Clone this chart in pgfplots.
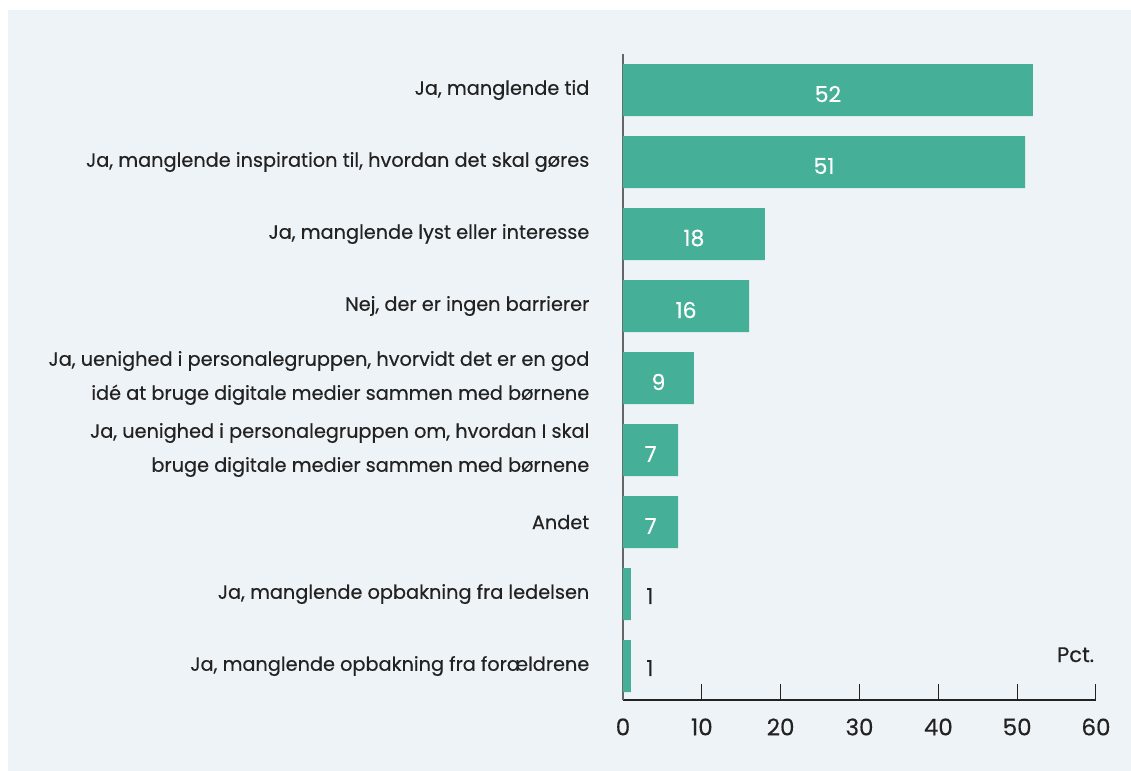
\documentclass[border=0pt]{standalone}
\usepackage{pgfplots}
\pgfplotsset{compat=1.18}
\usepackage{pgfplotstable}
\usepackage{fontspec}
\setmainfont{Poppins}[FakeBold=0.35]
\definecolor{panelbg}{HTML}{EEF3F7}
\definecolor{barteal}{HTML}{45B097}
\definecolor{txt}{HTML}{222222}
\definecolor{yline}{HTML}{666666}

% y = position from the top, v = percent
\pgfplotstableread{
y v
0 52
1 51
2 18
3 16
4 9
5 7
6 7
}\bigbars
\pgfplotstableread{
y v
7 1
8 1
}\smallbars

\begin{document}
\begin{tikzpicture}
\useasboundingbox (-311.5pt,-35.5pt) rectangle (254pt,350pt);
\fill[panelbg] (-307.5pt,-35.5pt) rectangle (254pt,345pt);
\begin{axis}[
    at={(0,0)}, anchor=south west,
    scale only axis,
    width=236.5pt, height=323pt,
    xmin=0, xmax=60,
    ymin=-0.5, ymax=8.472,
    y dir=reverse,
    axis x line*=bottom, axis y line*=left,
    x axis line style={-, draw=txt, line width=0.75pt},
    y axis line style={-, draw=yline, line width=1pt},
    xtick={0,10,...,60},
    tick align=inside,
    major tick length=8pt,
    xtick style={draw=txt, line width=0.5pt},
    ytick={0,...,8},
    ytick style={draw=none},
    yticklabels={
        {Ja, manglende tid},
        {Ja, manglende inspiration til, hvordan det skal gøres},
        {Ja, manglende lyst eller interesse},
        {Nej, der er ingen barrierer},
        {Ja, uenighed i personalegruppen, hvorvidt det er en god\\idé at bruge digitale medier sammen med børnene},
        {Ja, uenighed i personalegruppen om, hvordan I skal\\bruge digitale medier sammen med børnene},
        {Andet},
        {Ja, manglende opbakning fra ledelsen},
        {Ja, manglende opbakning fra forældrene}},
    yticklabel style={font=\fontsize{9.65}{17}\selectfont, align=right, text=txt, xshift=-13.3pt},
    xticklabel style={font=\fontsize{11.5}{14}\selectfont, text=txt, anchor=north, yshift=-5.7pt},
    /pgf/number format/assume math mode=true,
    xlabel={Pct.},
    xlabel style={at={(rel axis cs:0.957,0.07)}, anchor=center, font=\fontsize{10.5}{12}\selectfont, text=txt},
    bar width=0.722,
    bar shift=0pt,
    clip=false,
]
\addplot[xbar, fill=barteal, draw=none] table[x=v, y=y] {\bigbars};
\addplot[xbar, fill=barteal, draw=none,
    nodes near coords,
    every node near coord/.append style={anchor=center, xshift=9.5pt, yshift=-1pt, text=txt, font=\fontsize{11}{13}\selectfont}]
    table[x=v, y=y] {\smallbars};
\addplot[draw=none, mark=none,
    nodes near coords, point meta=\thisrow{v},
    every node near coord/.append style={anchor=center, yshift=-2pt, text=white, font=\fontsize{11}{13}\selectfont}]
    table[x expr=\thisrow{v}/2, y=y] {\bigbars};
\end{axis}
\end{tikzpicture}
\end{document}
